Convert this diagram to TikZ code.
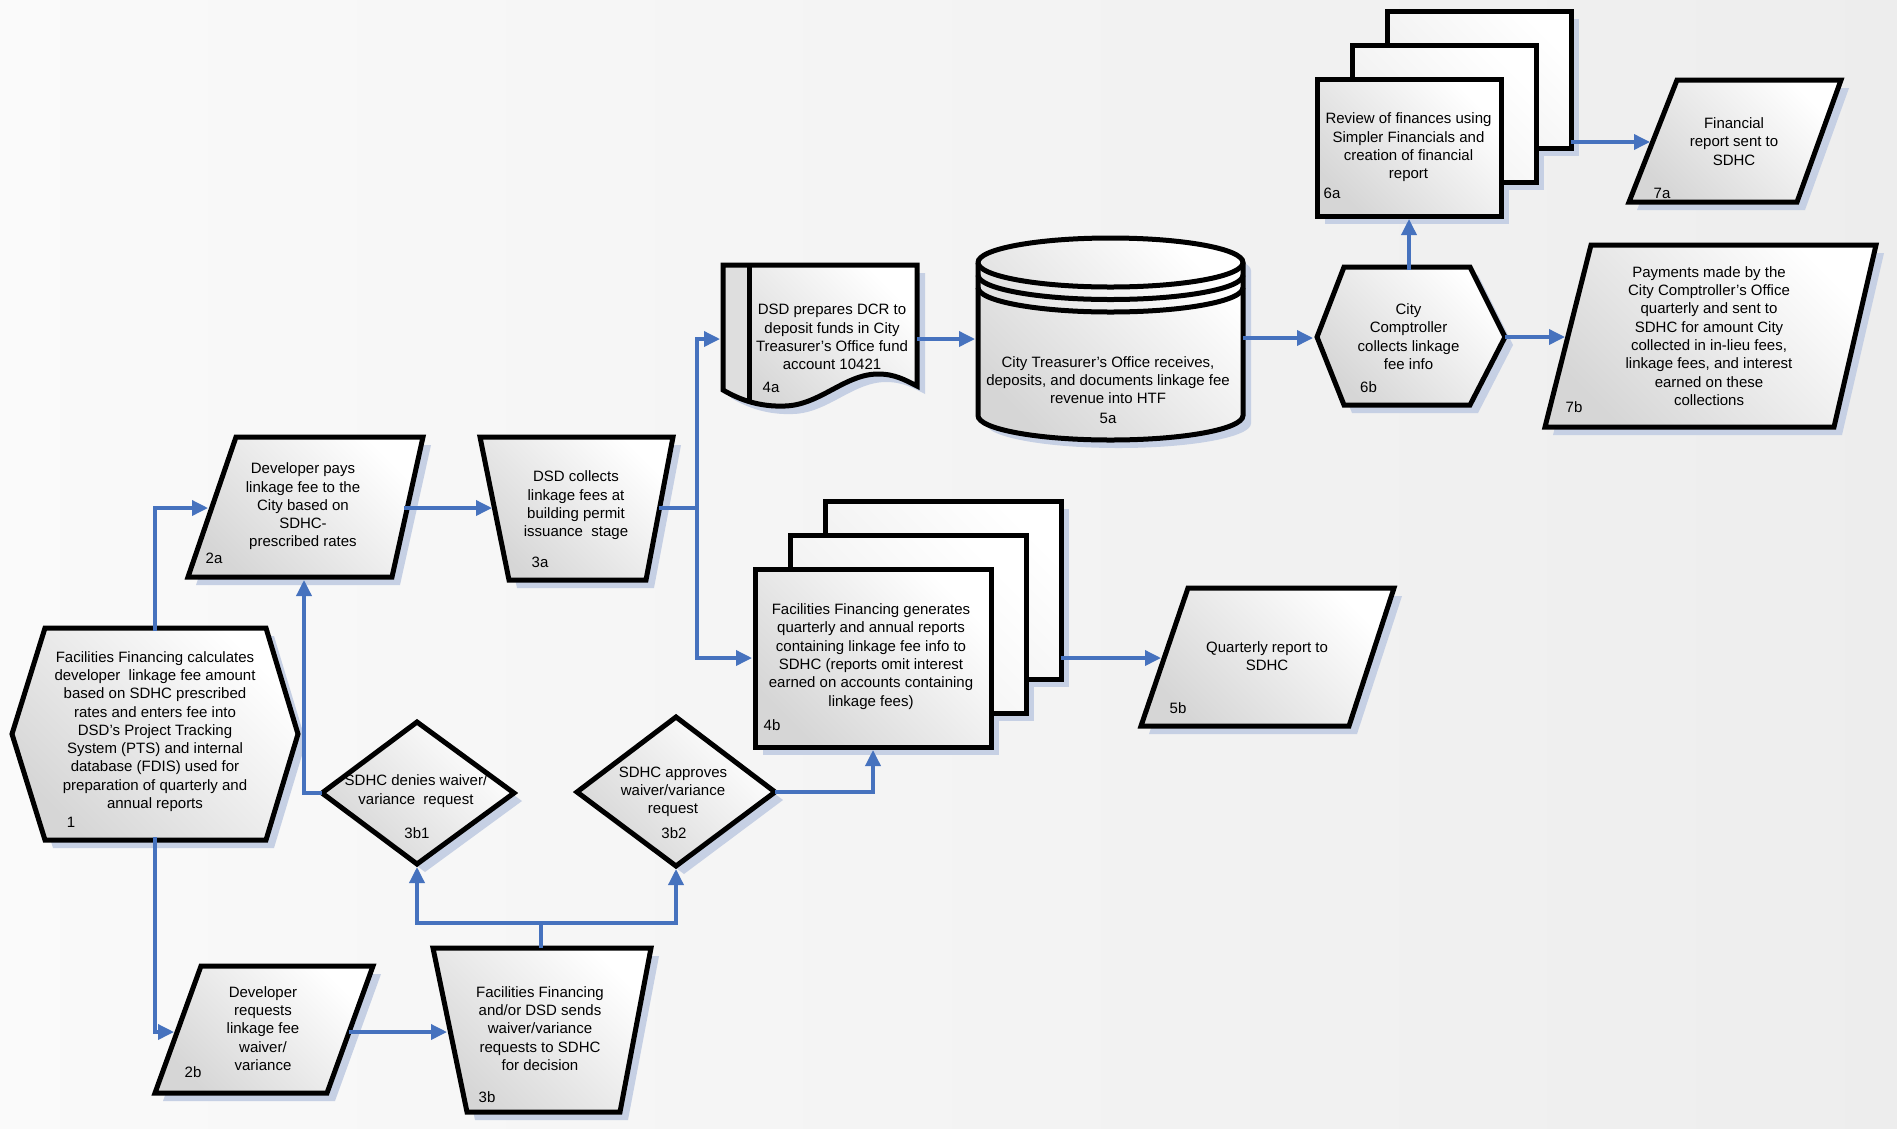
\documentclass[tikz,border=0pt]{standalone}
\usepackage{fontspec}
\setmainfont{Liberation Sans}
\usetikzlibrary{arrows.meta}
\definecolor{arrowblue}{RGB}{70,114,190}
\definecolor{shadowc}{RGB}{198,208,228}
\begin{document}
\begin{tikzpicture}[x=1pt,y=-1pt,
  blk/.style={draw=black, line width=5pt, line join=miter, top color=white, bottom color=black!16, shading angle=-45},
  blkback/.style={draw=black, line width=5pt, line join=miter, top color=white, bottom color=black!7, shading angle=-45},
  shd/.style={fill=shadowc, draw=none, shift={(8,8)}},
  arr/.style={draw=arrowblue, line width=3.5pt, -{Triangle[length=16pt,width=15pt]}},
  ln/.style={draw=arrowblue, line width=3.5pt},
  txt/.style={align=center, font=\fontsize{15}{18.3}\selectfont, inner sep=0pt},
  lbl/.style={font=\fontsize{15}{18.3}\selectfont, inner sep=0pt}
]
\useasboundingbox (0,0) rectangle (1897,1128);
\fill[left color=white!98!black, right color=white!93!black] (0,0) rectangle (1897,1128);

% ---------- shadows ----------
\fill[shd] (12,734) -- (45,628) -- (266,628) -- (298,734) -- (266,840) -- (45,840) -- cycle;
\fill[shd] (236,437) -- (423,437) -- (392,577) -- (188,577) -- cycle;
\fill[shd] (480,437) -- (673,437) -- (646,580) -- (509,580) -- cycle;
\fill[shd] (201,966) -- (373,966) -- (327,1093) -- (155,1093) -- cycle;
\fill[shd] (433,948) -- (651,948) -- (620,1112) -- (467,1112) -- cycle;
\fill[shd] (417,722) -- (514,793) -- (417,864) -- (322,793) -- cycle;
\fill[shd] (676,717) -- (775,792) -- (676,866) -- (577,792) -- cycle;
\fill[shd] (723,265) -- (917,265) -- (917,386) .. controls (905,380) and (895,374) .. (878,374) .. controls (845,374) and (820,405) .. (785,406) .. controls (760,407) and (740,400) .. (723,390) -- cycle;
\fill[shd] (978,262.5) -- (978,415.5) arc[start angle=180,end angle=360,x radius=132.5pt,y radius=24.5pt] -- (1243,262.5) arc[start angle=0,end angle=180,x radius=132.5pt,y radius=24.5pt] -- cycle;
\fill[shd] (825,501) rectangle (1061,679);
\fill[shd] (790,535) rectangle (1026,713);
\fill[shd] (755,569) rectangle (991,747);
\fill[shd] (1188,588) -- (1394,588) -- (1349,726) -- (1141,726) -- cycle;
\fill[shd] (1387,11) rectangle (1571,148);
\fill[shd] (1352,45) rectangle (1536,182);
\fill[shd] (1317,79) rectangle (1501,216);
\fill[shd] (1317,337) -- (1344,267) -- (1470,267) -- (1505,337) -- (1470,405) -- (1344,405) -- cycle;
\fill[shd] (1677,80) -- (1841,80) -- (1797,202) -- (1629,202) -- cycle;
\fill[shd] (1591,245) -- (1876,245) -- (1834,427) -- (1545,427) -- cycle;

% ---------- shapes ----------
\path[blk] (12,734) -- (45,628) -- (266,628) -- (298,734) -- (266,840) -- (45,840) -- cycle;
\path[blk] (236,437) -- (423,437) -- (392,577) -- (188,577) -- cycle;
\path[blk] (480,437) -- (673,437) -- (646,580) -- (509,580) -- cycle;
\path[blk] (201,966) -- (373,966) -- (327,1093) -- (155,1093) -- cycle;
\path[blk] (433,948) -- (651,948) -- (620,1112) -- (467,1112) -- cycle;
\path[blk] (417,722) -- (514,793) -- (417,864) -- (322,793) -- cycle;
\path[blk] (676,717) -- (775,792) -- (676,866) -- (577,792) -- cycle;
% document 4a
\path[top color=white, bottom color=black!16, shading angle=-45] (723,265) -- (917,265) -- (917,386) .. controls (905,380) and (895,374) .. (878,374) .. controls (845,374) and (820,405) .. (785,406) .. controls (760,407) and (740,400) .. (723,390) -- cycle;
\fill[black!13] (723,265) -- (749,265) -- (749,403) .. controls (740,399) and (731,395) .. (723,390) -- cycle;
\draw[line width=5pt, line join=miter] (723,265) -- (917,265) -- (917,386) .. controls (905,380) and (895,374) .. (878,374) .. controls (845,374) and (820,405) .. (785,406) .. controls (760,407) and (740,400) .. (723,390) -- cycle;
\draw[line width=5pt] (749,265) -- (749,403);
% cylinder 5a
\path[blk] (978,262.5) -- (978,415.5) arc[start angle=180,end angle=360,x radius=132.5pt,y radius=24.5pt] -- (1243,262.5) arc[start angle=0,end angle=180,x radius=132.5pt,y radius=24.5pt] -- cycle;
\draw[line width=5pt] (978,262.5) arc[start angle=180,end angle=360,x radius=132.5pt,y radius=24.5pt];
\draw[line width=5pt] (978,275) arc[start angle=180,end angle=360,x radius=132.5pt,y radius=24.5pt];
\draw[line width=5pt] (978,287.5) arc[start angle=180,end angle=360,x radius=132.5pt,y radius=24.5pt];
% stack 4b
\path[blkback] (825,501) rectangle (1061,679);
\path[blkback] (790,535) rectangle (1026,713);
\path[blk] (755,569) rectangle (991,747);
\path[blk] (1188,588) -- (1394,588) -- (1349,726) -- (1141,726) -- cycle;
% stack 6a
\path[blkback] (1387,11) rectangle (1571,148);
\path[blkback] (1352,45) rectangle (1536,182);
\path[blk] (1317,79) rectangle (1501,216);
\path[blk] (1317,337) -- (1344,267) -- (1470,267) -- (1505,337) -- (1470,405) -- (1344,405) -- cycle;
\path[blk] (1677,80) -- (1841,80) -- (1797,202) -- (1629,202) -- cycle;
\path[blk] (1591,245) -- (1876,245) -- (1834,427) -- (1545,427) -- cycle;

% ---------- texts ----------
\node[txt] (n1) at (155,731.5) {Facilities Financing calculates\\developer~ linkage fee amount\\based on SDHC prescribed\\rates and enters fee into\\DSD’s Project Tracking\\System (PTS) and internal\\database (FDIS) used for\\preparation of quarterly and\\annual reports};
\node[lbl] (l1) at (71,822) {1};
\node[txt] (n2a) at (303,506.5) {Developer pays\\linkage fee to the\\City based on\\SDHC-\\prescribed rates};
\node[lbl] (l2a) at (214,558) {2a};
\node[txt] (n3a) at (576,505.5) {DSD collects\\linkage fees at\\building permit\\issuance~ stage};
\node[lbl] (l3a) at (540,562) {3a};
\node[txt] (n2b) at (263,1028.5) {Developer\\requests\\linkage fee\\waiver/\\variance};
\node[lbl] (l2b) at (193,1072) {2b};
\node[txt] (n3b) at (540,1028.5) {Facilities Financing\\and/or DSD sends\\waiver/variance\\requests to SDHC\\for decision};
\node[lbl] (l3b) at (487,1097) {3b};
\node[txt] (n3b1) at (416,791) {SDHC denies waiver/\\variance~ request};
\node[lbl] (l3b1) at (417,833) {3b1};
\node[txt] (n3b2) at (673,792) {SDHC approves\\waiver/variance\\request};
\node[lbl] (l3b2) at (674,833) {3b2};
\node[txt] (n4a) at (832,337) {DSD prepares DCR to\\deposit funds in City\\Treasurer’s Office fund\\account 10421};
\node[lbl] (l4a) at (771,387) {4a};
\node[txt] (n5a) at (1108,380) {City Treasurer’s Office receives,\\deposits, and documents linkage fee\\revenue into HTF};
\node[lbl] (l5a) at (1108,418) {5a};
\node[txt] (n4b) at (871,656.5) {Facilities Financing generates\\quarterly and annual reports\\containing linkage fee info to\\SDHC (reports omit interest\\earned on accounts containing\\linkage fees)};
\node[lbl] (l4b) at (772,725) {4b};
\node[txt] (n5b) at (1267,656) {Quarterly report to\\SDHC};
\node[lbl] (l5b) at (1178,708) {5b};
\node[txt] (n6a) at (1408.5,147.5) {Review of finances using\\Simpler Financials and\\creation of financial\\report};
\node[lbl] (l6a) at (1332,193) {6a};
\node[txt] (n6b) at (1408.5,336.5) {City\\Comptroller\\collects linkage\\fee info};
\node[lbl] (l6b) at (1368.5,387) {6b};
\node[txt] (n7a) at (1734,141.5) {Financial\\report sent to\\SDHC};
\node[lbl] (l7a) at (1662,193) {7a};
\node[txt] (n7b) at (1709,336) {Payments made by the\\City Comptroller’s Office\\quarterly and sent to\\SDHC for amount City\\collected in in-lieu fees,\\linkage fees, and interest\\earned on these\\collections};
\node[lbl] (l7b) at (1574,407) {7b};

% ---------- connector end points ----------
\coordinate (n1-n) at (155,631);
\coordinate (n1-s) at (155,837);
\coordinate (n2a-w) at (208,508);
\coordinate (n2a-e) at (404,508);
\coordinate (n2a-s) at (304,580);
\coordinate (n3a-w) at (492,508);
\coordinate (n3a-e) at (659,508);
\coordinate (n4a-w) at (720,339);
\coordinate (n4a-e) at (917,339);
\coordinate (n5a-w) at (975,339);
\coordinate (n5a-e) at (1243,338);
\coordinate (n6b-w) at (1313,338);
\coordinate (n6b-n) at (1409,270);
\coordinate (n6b-e) at (1505,337);
\coordinate (n6a-s) at (1409,219);
\coordinate (n6a-e) at (1571,142);
\coordinate (n7a-w) at (1650,142);
\coordinate (n7b-w) at (1565,337);
\coordinate (n4b-w) at (752,658);
\coordinate (n4b-e) at (1061,658);
\coordinate (n4b-s) at (873,750);
\coordinate (n5b-w) at (1161,658);
\coordinate (n2b-w) at (174,1032);
\coordinate (n2b-e) at (349,1032);
\coordinate (n3b-w) at (447,1032);
\coordinate (n3b-n) at (541,948);
\coordinate (n3b1-s) at (417,867);
\coordinate (n3b1-w) at (322,793);
\coordinate (n3b2-s) at (676,869);
\coordinate (n3b2-e) at (775,792);
\coordinate (j3) at (697,508);
\coordinate (j3b) at (541,923);

% ---------- connectors ----------
\draw[arr] (n1-n) |- (n2a-w);
\draw[arr] (n2a-e) -- (n3a-w);
\draw[ln] (n3a-e) -- (j3);
\draw[arr] (j3) |- (n4a-w);
\draw[arr] (j3) |- (n4b-w);
\draw[arr] (n4a-e) -- (n5a-w);
\draw[arr] (n5a-e) -- (n6b-w);
\draw[arr] (n6b-n) -- (n6a-s);
\draw[arr] (n6a-e) -- (n7a-w);
\draw[arr] (n6b-e) -- (n7b-w);
\draw[arr] (n4b-e) -- (n5b-w);
\draw[arr] (n1-s) |- (n2b-w);
\draw[arr] (n2b-e) -- (n3b-w);
\draw[ln] (n3b-n) -- (j3b);
\draw[arr] (j3b) -| (n3b1-s);
\draw[arr] (j3b) -| (n3b2-s);
\draw[arr] (n3b1-w) -| (n2a-s);
\draw[arr] (n3b2-e) -| (n4b-s);
\end{tikzpicture}
\end{document}
